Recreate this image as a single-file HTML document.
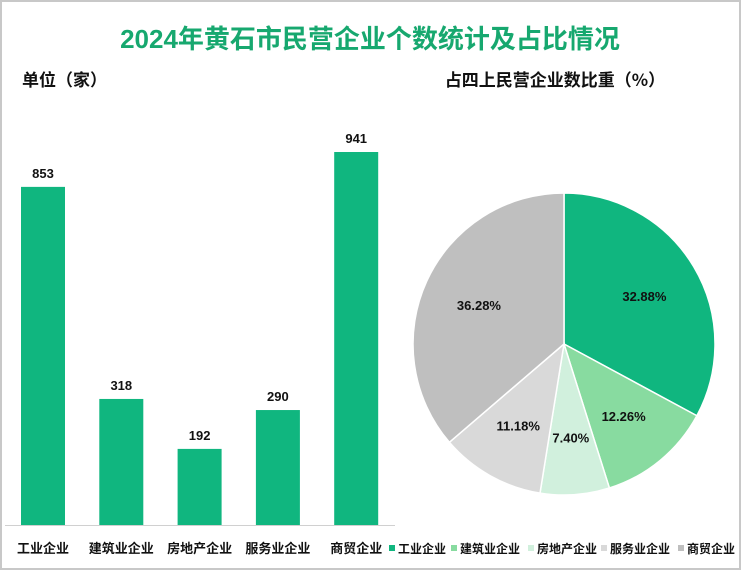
<!DOCTYPE html>
<html><head><meta charset="utf-8"><style>
body{margin:0;width:741px;height:570px;overflow:hidden;background:#fff;font-family:"Liberation Sans","Noto Sans CJK SC",sans-serif}
#frame{position:absolute;left:0;top:0;width:737px;height:566px;border:2px solid #c8c8c8}
</style></head><body>
<div id="frame"></div>
<svg id="c" width="741" height="570" style="position:absolute;left:0;top:0">
<text x="370" y="48" text-anchor="middle" font-size="26" font-weight="bold" fill="#17a86f" font-family="Liberation Sans,Noto Sans CJK SC,sans-serif">2024年黄石市民营企业个数统计及占比情况</text>
<text x="22" y="86" font-size="17" font-weight="bold" fill="#111" font-family="Noto Sans CJK SC,sans-serif">单位（家）</text>
<text x="555" y="86" text-anchor="middle" font-size="17" font-weight="bold" fill="#111" font-family="Noto Sans CJK SC,sans-serif">占四上民营企业数比重（%）</text>
<line x1="5" y1="525.5" x2="395" y2="525.5" stroke="#d0d0d0"/>
<g id="bars"></g><g id="pie"></g><g id="legend"></g>
</svg>
<script>
const categories=["工业企业","建筑业企业","房地产企业","服务业企业","商贸企业"];
const counts=[853,318,192,290,941];
const shares=[32.88,12.26,7.40,11.18,36.28];
const colors=["#10b67f","#88dba0","#d1f0dd","#d9d9d9","#bfbfbf"];
const NS="http://www.w3.org/2000/svg";
function mk(t,a,p){const e=document.createElementNS(NS,t);for(const k in a)e.setAttribute(k,a[k]);p.appendChild(e);return e;}
const base=525,scale=373/941;
function y(v){return base-v*scale;}
function xc(i){return 43+i*78.3;}
const bg=document.getElementById('bars');
counts.forEach((v,i)=>{
 const r=mk('rect',{x:xc(i)-22,y:y(v),width:44,height:base-y(v),fill:'#10b67f'},bg);
 
 
 const t=mk('text',{x:xc(i),y:y(v)-9,'text-anchor':'middle','font-size':13,'font-weight':'bold',fill:'#111'},bg);
 t.textContent=v;
 
 
 const l=mk('text',{x:xc(i),y:553,'text-anchor':'middle','font-size':13,'font-weight':'bold',fill:'#111','font-family':'Noto Sans CJK SC,sans-serif'},bg);
 l.textContent=categories[i];
 
 
});
const pg=document.getElementById('pie');
const cx=564,cy=344,R=151;
let tot=shares.reduce((a,b)=>a+b,0),acc=0;
shares.forEach((s,i)=>{
 const a0=acc/tot*2*Math.PI,a1=(acc+s)/tot*2*Math.PI;acc+=s;
 const p=(a)=>[cx+R*Math.sin(a),cy-R*Math.cos(a)];
 const [x0,y0]=p(a0),[x1,y1]=p(a1);
 const path=mk('path',{d:`M${cx},${cy}L${x0},${y0}A${R},${R} 0 ${a1-a0>Math.PI?1:0} 1 ${x1},${y1}Z`,fill:colors[i],stroke:'#fff','stroke-width':1.5},pg);
 
 
 const am=(a0+a1)/2,rr=R*0.62;
 const t=mk('text',{x:cx+rr*Math.sin(am),y:cy-rr*Math.cos(am)+5,'text-anchor':'middle','font-size':13,'font-weight':'bold',fill:'#111'},pg);
 t.textContent=s.toFixed(2)+'%';
 
 
});
const lg=document.getElementById('legend');
const lx=[389,451,528,601,678];
categories.forEach((c,i)=>{
 const r=mk('rect',{x:lx[i],y:545,width:6,height:6,fill:colors[i]},lg);
 
 
 const t=mk('text',{x:lx[i]+9,y:553,'font-size':12,'font-weight':'bold',fill:'#111','font-family':'Noto Sans CJK SC,sans-serif'},lg);
 t.textContent=c;
 
 
});
</script>
</body></html>
